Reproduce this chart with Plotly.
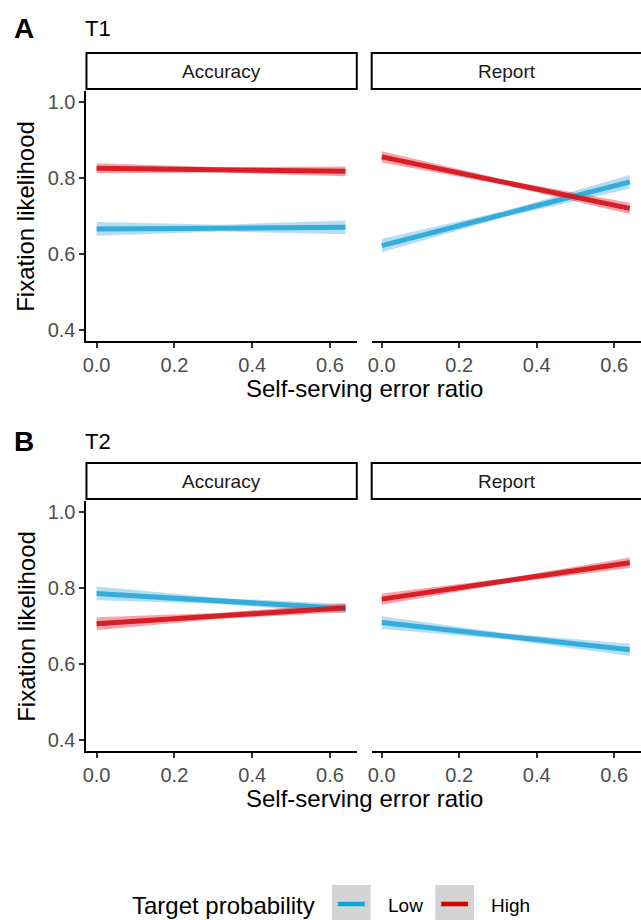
import plotly.graph_objects as go

# ---------------- data ----------------
x_ratio = [0.0, 0.32, 0.64]
x_ticks = [0.0, 0.2, 0.4, 0.6]
x_tick_labels = ["0.0", "0.2", "0.4", "0.6"]
y_ticks = [0.4, 0.6, 0.8, 1.0]
y_tick_labels = ["0.4", "0.6", "0.8", "1.0"]
conditions = ["Accuracy", "Report"]
groups = ["Low", "High"]

# T1 - Accuracy
t1_acc_low_fit = [0.666, 0.668, 0.670]
t1_acc_low_lo = [0.648, 0.659, 0.652]
t1_acc_low_hi = [0.684, 0.677, 0.688]
t1_acc_high_fit = [0.826, 0.822, 0.818]
t1_acc_high_lo = [0.813, 0.815, 0.805]
t1_acc_high_hi = [0.839, 0.829, 0.831]
# T1 - Report
t1_rep_low_fit = [0.622, 0.706, 0.790]
t1_rep_low_lo = [0.604, 0.698, 0.772]
t1_rep_low_hi = [0.640, 0.714, 0.808]
t1_rep_high_fit = [0.856, 0.788, 0.720]
t1_rep_high_lo = [0.841, 0.781, 0.705]
t1_rep_high_hi = [0.871, 0.795, 0.735]
# T2 - Accuracy
t2_acc_low_fit = [0.786, 0.766, 0.746]
t2_acc_low_lo = [0.768, 0.758, 0.734]
t2_acc_low_hi = [0.804, 0.774, 0.758]
t2_acc_high_fit = [0.706, 0.727, 0.748]
t2_acc_high_lo = [0.689, 0.719, 0.736]
t2_acc_high_hi = [0.723, 0.735, 0.760]
# T2 - Report
t2_rep_low_fit = [0.709, 0.673, 0.637]
t2_rep_low_lo = [0.692, 0.665, 0.621]
t2_rep_low_hi = [0.726, 0.681, 0.653]
t2_rep_high_fit = [0.771, 0.819, 0.867]
t2_rep_high_lo = [0.756, 0.812, 0.853]
t2_rep_high_hi = [0.786, 0.826, 0.881]

panel_data = {
    (1, "Accuracy"): {"Low": (t1_acc_low_fit, t1_acc_low_lo, t1_acc_low_hi),
                      "High": (t1_acc_high_fit, t1_acc_high_lo, t1_acc_high_hi)},
    (1, "Report"): {"Low": (t1_rep_low_fit, t1_rep_low_lo, t1_rep_low_hi),
                    "High": (t1_rep_high_fit, t1_rep_high_lo, t1_rep_high_hi)},
    (2, "Accuracy"): {"Low": (t2_acc_low_fit, t2_acc_low_lo, t2_acc_low_hi),
                      "High": (t2_acc_high_fit, t2_acc_high_lo, t2_acc_high_hi)},
    (2, "Report"): {"Low": (t2_rep_low_fit, t2_rep_low_lo, t2_rep_low_hi),
                    "High": (t2_rep_high_fit, t2_rep_high_lo, t2_rep_high_hi)},
}

# ---------------- styling ----------------
W, H = 641, 920
FONT = "Liberation Sans, Arial, Helvetica, sans-serif"
line_col = {"Low": "rgba(45,170,218,0.95)", "High": "rgba(214,18,28,0.92)"}
band_col = {"Low": "rgba(70,175,220,0.40)", "High": "rgba(232,40,50,0.42)"}
key_col = {"Low": "#0AA8D6", "High": "#D00000"}


def fx(p):
    return p / W


def fy(p):
    return 1 - p / H


col_px = {"Accuracy": (83, 355), "Report": (370, 642)}
row_px = {1: (91, 341), 2: (501, 751)}
strip_px = {1: (53, 89), 2: (463, 499)}

fig = go.Figure()
layout_axes = {}
idx = 0
for row in (1, 2):
    for cond in conditions:
        idx += 1
        xa = "x" if idx == 1 else f"x{idx}"
        ya = "y" if idx == 1 else f"y{idx}"
        for g in groups:
            fit, lo, hi = panel_data[(row, cond)][g]
            fig.add_trace(go.Scatter(
                x=x_ratio + x_ratio[::-1], y=hi + lo[::-1], fill="toself",
                fillcolor=band_col[g], line=dict(width=0), mode="lines",
                hoverinfo="skip", showlegend=False, xaxis=xa, yaxis=ya))
        for g in groups:
            fit, lo, hi = panel_data[(row, cond)][g]
            fig.add_trace(go.Scatter(
                x=x_ratio, y=fit, mode="lines", name=g,
                line=dict(color=line_col[g], width=5),
                showlegend=False, xaxis=xa, yaxis=ya))
        x0, x1 = col_px[cond]
        y0, y1 = row_px[row]
        is_left = cond == "Accuracy"
        layout_axes["xaxis" if idx == 1 else f"xaxis{idx}"] = dict(
            domain=[fx(x0), min(1.0, fx(x1))], range=[-0.026, 0.669],
            anchor=ya, tickvals=x_ticks, ticktext=x_tick_labels,
            showline=True, linecolor="black", linewidth=2, ticks="outside",
            ticklen=5, tickwidth=1.5, tickcolor="#333333", showgrid=False,
            zeroline=False, tickfont=dict(size=20, color="#4D4D4D", family=FONT))
        layout_axes["yaxis" if idx == 1 else f"yaxis{idx}"] = dict(
            domain=[fy(y1), fy(y0)], range=[0.37, 1.03], anchor=xa,
            tickvals=y_ticks, ticktext=y_tick_labels,
            showline=is_left, linecolor="black", linewidth=2,
            ticks="outside" if is_left else "", ticklen=5, tickwidth=1.5,
            tickcolor="#333333", showticklabels=is_left, showgrid=False,
            zeroline=False, tickfont=dict(size=20, color="#4D4D4D", family=FONT))

shapes = []
annotations = []
for row in (1, 2):
    sy0, sy1 = strip_px[row]
    for cond in conditions:
        x0, x1 = col_px[cond]
        if cond == "Report":
            x1 = 660
        shapes.append(dict(type="rect", xref="paper", yref="paper",
                           x0=fx(x0), x1=fx(x1), y0=fy(sy1), y1=fy(sy0),
                           line=dict(color="black", width=2), fillcolor="white"))
        annotations.append(dict(text=cond, xref="paper", yref="paper",
                                x=fx((col_px[cond][0] + col_px[cond][1]) / 2),
                                y=fy((sy0 + sy1) / 2), showarrow=False,
                                xanchor="center", yanchor="middle",
                                font=dict(size=19, color="#1A1A1A", family=FONT)))
    # panel letter and title
    ry = 28 if row == 1 else 441
    annotations.append(dict(text="<b>" + ("A" if row == 1 else "B") + "</b>",
                            xref="paper", yref="paper", x=fx(8), y=fy(ry),
                            showarrow=False, xanchor="left", yanchor="middle",
                            font=dict(size=28, color="black", family=FONT)))
    annotations.append(dict(text="T1" if row == 1 else "T2",
                            xref="paper", yref="paper", x=fx(79), y=fy(ry),
                            showarrow=False, xanchor="left", yanchor="middle",
                            font=dict(size=22, color="black", family=FONT)))
    # axis titles
    py0, py1 = row_px[row]
    annotations.append(dict(text="Fixation likelihood", xref="paper", yref="paper",
                            x=fx(22), y=fy((py0 + py1) / 2), textangle=-90,
                            showarrow=False, xanchor="center", yanchor="middle",
                            font=dict(size=24, color="black", family=FONT)))
    annotations.append(dict(text="Self-serving error ratio", xref="paper", yref="paper",
                            x=fx(363), y=fy(388 if row == 1 else 798),
                            showarrow=False, xanchor="center", yanchor="middle",
                            font=dict(size=24, color="black", family=FONT)))

# legend (drawn manually to mimic ggplot keys)
annotations.append(dict(text="Target probability", xref="paper", yref="paper",
                        x=fx(127), y=fy(905), showarrow=False, xanchor="left",
                        yanchor="middle", font=dict(size=24, color="black", family=FONT)))
key_x = {"Low": 330, "High": 434}
for g in groups:
    kx = key_x[g]
    shapes.append(dict(type="rect", xref="paper", yref="paper", x0=fx(kx), x1=fx(kx + 39),
                       y0=fy(930), y1=fy(885), line=dict(width=0), fillcolor="#D3D3D3"))
    shapes.append(dict(type="line", xref="paper", yref="paper", x0=fx(kx + 6), x1=fx(kx + 33),
                       y0=fy(904), y1=fy(904), line=dict(color=key_col[g], width=4.5)))
    annotations.append(dict(text=g, xref="paper", yref="paper", x=fx(kx + 54), y=fy(905),
                            showarrow=False, xanchor="left", yanchor="middle",
                            font=dict(size=19, color="black", family=FONT)))

fig.update_layout(width=W, height=H, margin=dict(l=0, r=0, t=0, b=0),
                  paper_bgcolor="white", plot_bgcolor="white", showlegend=False,
                  shapes=shapes, annotations=annotations,
                  font=dict(family=FONT), **layout_axes)

fig.write_html("out.html", config={"displayModeBar": False},
               post_script="document.body.style.margin='0px';"
                           "document.body.style.overflow='hidden';")
